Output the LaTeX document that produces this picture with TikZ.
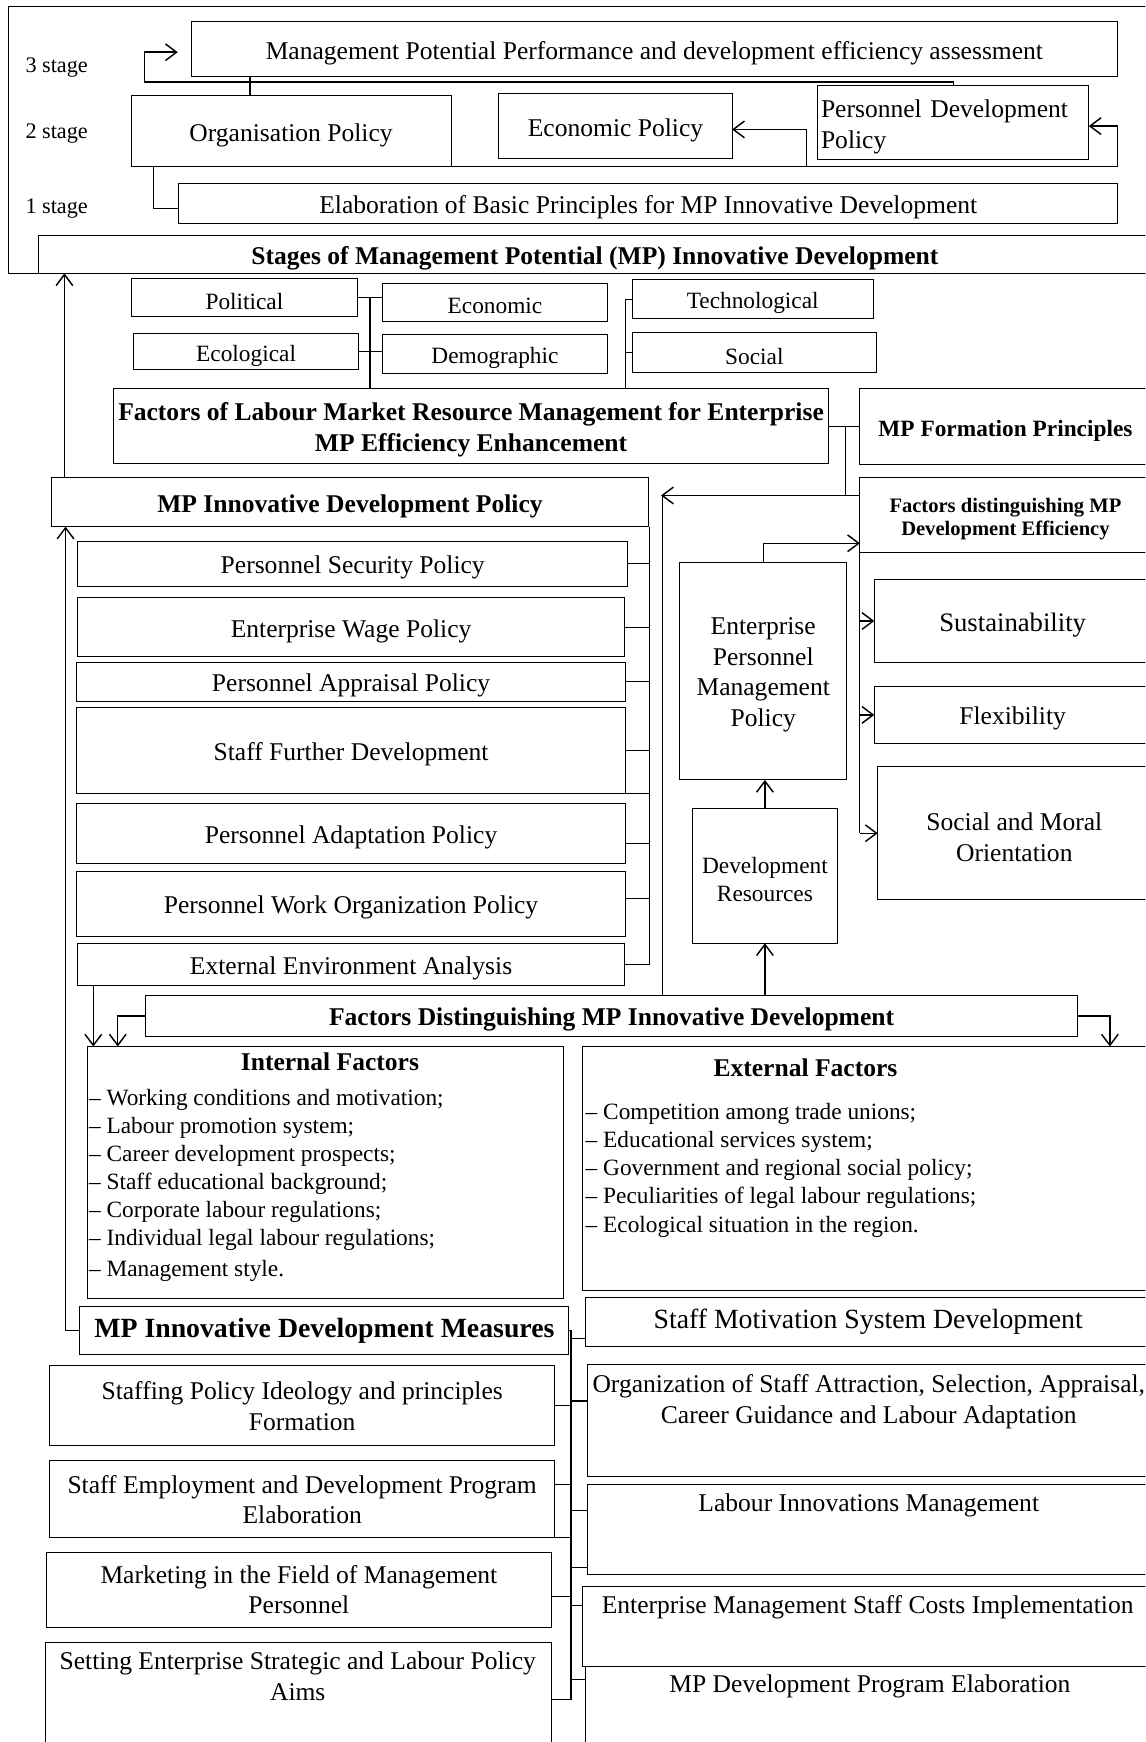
\documentclass[tikz,border=0pt]{standalone}
\usepackage{fontspec}
\setmainfont{Liberation Serif}
\usetikzlibrary{arrows.meta,calc}
\newcommand\fA{\fontsize{23}{27.5}\selectfont}
\newcommand\fS{\fontsize{21}{25.3}\selectfont}
\newcommand\fL{\fontsize{20}{24}\selectfont}
\newcommand\fC{\fontsize{18.5}{21}\selectfont}
\newcommand\fD{\fontsize{24}{28}\selectfont}
\newcommand\fE{\fontsize{25}{30}\selectfont}
% box with centred text (text node slightly lowered to match visual centre)
\newcommand\bxn[7][]{\node[box,minimum width={(#4)-(#2)},minimum height={(#5)-(#3)}] (#6) at ({((#2)+(#4))/2},{((#3)+(#5))/2}) {};
  \node[txt,#1] (#6-t) at ({((#2)+(#4))/2},{((#3)+(#5))/2+3.5}) {#7};}
% empty box
\newcommand\bxe[5]{\node[box,minimum width={(#3)-(#1)},minimum height={(#4)-(#2)}] (#5) at ({((#1)+(#3))/2},{((#2)+(#4))/2}) {};}
\begin{document}
\begin{tikzpicture}[x=1pt,y=-1pt,
  box/.style={draw=black,line width=0.9pt,inner sep=0pt,outer sep=0pt},
  txt/.style={inner sep=0pt,font=\fA,align=center},
  ln/.style={line width=1pt},
  arr/.style={line width=1.3pt,-{Straight Barb[length=10pt,width=15pt,line width=1.3pt]}}]
\useasboundingbox (0,0) rectangle (1031,1568);
\clip (0,0) rectangle (1031,1568);

% ---------- top frame ----------
\bxe{8}{6}{1040}{246}{frame}
\bxn{172}{19}{1006}{69}{mpa}{Management Potential Performance and development efficiency assessment}
\bxn{118}{86}{406}{150}{orgp}{Organisation Policy}
\bxn{449}{84}{659}{143}{ecop}{Economic Policy}
\bxn[align=left,text width=238pt]{736}{77}{980}{144}{pdp}{Personnel Development\\Policy}
\bxn{161}{165}{1006}{201}{elab}{Elaboration of Basic Principles for MP Innovative Development}
\bxn[font=\fA\bfseries]{35}{212}{1036}{246}{stages}{Stages of Management Potential (MP) Innovative Development}
\node[txt,font=\fL] (s3) at (51,61) {3 stage};
\node[txt,font=\fL] (s2) at (51,120) {2 stage};
\node[txt,font=\fL] (s1) at (51,188) {1 stage};

\coordinate (k1) at (130,74);
\coordinate (k2) at (160,47);
\draw[arr] (pdp.north) |- (k1) |- (k2);
\coordinate (k3) at ($(orgp.north west)+(107,0)$);
\draw[ln] (k3) -- (k3 |- mpa.south);
\draw[ln] ($(orgp.south west)+(20,0)$) |- ($(elab.west)+(0,5)$);
\coordinate (k4) at ($(orgp.south east)+(600,0)$);
\draw[ln] (orgp.south east) -- (k4);
\draw[arr] (k4) |- ($(pdp.east)+(0,3)$);
\draw[arr] ($(orgp.south east)+(320,0)$) |- ($(ecop.east)+(0,3)$);

% ---------- factors ----------
\bxn[font=\fS]{118}{251}{322}{285}{pol}{Political}
\bxn[font=\fS]{344}{255}{547}{289}{eco}{Economic}
\bxn[font=\fS]{569}{252}{786}{287}{tech}{Technological}
\bxn[font=\fS]{120}{300}{323}{333}{ecol}{Ecological}
\bxn[font=\fS]{344}{301}{547}{336}{demo}{Demographic}
\bxn[font=\fS]{569}{299}{789}{335}{soc}{Social}
\bxn[font=\fA\bfseries]{102}{350}{746}{417}{flm}{Factors of Labour Market Resource Management for Enterprise\\MP Efficiency Enhancement}
\bxn[font=\fS\bfseries]{774}{350}{1036}{418}{mpfp}{MP Formation Principles}
\bxn[font=\fC\bfseries]{774}{430}{1036}{497}{fdme}{Factors distinguishing MP\\Development Efficiency}

\draw[ln] (pol.east) -- (pol.east -| eco.west);
\draw[ln] (ecol.east) -- (ecol.east -| demo.west);
\coordinate (b1) at ($(pol.east)+(11,0)$);
\draw[ln] (b1) -- (b1 |- flm.north);
\coordinate (b2) at ($(tech.west)+(-6,0)$);
\draw[ln] (b2) -- (tech.west);
\draw[ln] (b2) -- (b2 |- flm.north);
\draw[ln] (soc.west -| b2) -- (soc.west);
\draw[ln] (flm.east) -- (flm.east -| mpfp.west);

% ---------- policy ----------
\bxn[font=\fA\bfseries]{46}{430}{584}{474}{mpidp}{MP Innovative Development Policy}
\bxn{70}{487}{565}{528}{psp}{Personnel Security Policy}
\bxn{70}{538}{562}{591}{ewp}{Enterprise Wage Policy}
\bxn{69}{596}{563}{631}{pap}{Personnel Appraisal Policy}
\bxn{69}{637}{563}{714}{sfd}{Staff Further Development}
\bxn{69}{723}{563}{777}{pad}{Personnel Adaptation Policy}
\bxn{69}{784}{563}{843}{pwo}{Personnel Work Organization Policy}
\bxn{70}{849}{562}{887}{eea}{External Environment Analysis}

\coordinate (b3) at ($(flm.east)+(15,0)$);
\coordinate (j1) at ($(fdme.north west)+(0,16)$);
\draw[ln] (b3) -- (b3 |- j1);
\coordinate (j2) at ($(mpidp.north east)+(11,16)$);
\draw[arr] (j1) -- (j2);
\coordinate (j3) at ($(j2)+(1,0)$);

\coordinate (u1) at ($(mpidp.north west)+(12,0)$);
\draw[arr] (u1) -- (u1 |- stages.south);

\coordinate (v1) at ($(mpidp.south east)+(1,0)$);
\draw[ln] (v1) -- (v1 |- eea.east);
\foreach \n in {psp,ewp,pap,sfd,eea} {\draw[ln] (\n.east) -- (\n.east -| v1);}
\draw[ln] (sfd.south east) -- (sfd.south east -| v1);
\draw[ln] ($(pad.east)+(0,9)$) -- ++(22,0);
\draw[ln] ($(pwo.east)+(0,-5)$) -- ++(22,0);

% ---------- right block ----------
\bxn{612}{506}{762}{702}{epmp}{Enterprise\\Personnel\\Management\\Policy}
\bxn[font=\fS]{623}{728}{754}{849}{devr}{Development\\Resources}
\bxn[font=\fD]{787}{522}{1036}{596}{sust}{Sustainability}
\bxn{787}{618}{1036}{669}{flex}{Flexibility}
\bxn{790}{690}{1036}{810}{smo}{Social and Moral\\Orientation}

\draw[ln] (fdme.south west) -- (fdme.south west |- smo.west);
\draw[arr] (sust.west -| fdme.south west) -- (sust.west);
\draw[arr] (flex.west -| fdme.south west) -- (flex.west);
\draw[arr] (smo.west -| fdme.south west) -- (smo.west);
\coordinate (e1) at ($(fdme.south west)+(0,-8)$);
\draw[arr] (epmp.north) |- (e1);
\draw[arr] (devr.north) -- (devr.north |- epmp.south);

% ---------- distinguishing factors ----------
\bxn[font=\fA\bfseries]{131}{896}{970}{933}{fdid}{Factors Distinguishing MP Innovative Development}
\draw[ln] (j3) -- (j3 |- fdid.north);
\draw[arr] (devr.south |- fdid.north) -- (devr.south);

\bxe{79}{942}{507}{1169}{intf}
\bxe{524}{942}{1036}{1162}{extf}
\node[txt,font=\fA\bfseries] (intft) at (297,956) {Internal Factors};
\node[txt,font=\fA\bfseries] (extft) at (725,961) {External Factors};
\node[txt,font=\fS,align=left,anchor=north west] (intfl) at (80,980) {– Working conditions and motivation;\\– Labour promotion system;\\– Career development prospects;\\– Staff educational background;\\– Corporate labour regulations;\\– Individual legal labour regulations;\\[2.7pt]– Management style.};
\node[txt,font=\fS,align=left,anchor=north west] (extfl) at (527,993) {– Competition among trade unions;\\– Educational services system;\\– Government and regional social policy;\\– Peculiarities of legal labour regulations;\\– Ecological situation in the region.};

\coordinate (d1) at ($(eea.south west)+(14,0)$);
\draw[arr] (d1) -- (d1 |- intf.north);
\coordinate (d2) at ($(intf.north west)+(27,0)$);
\draw[arr] (fdid.west) -| (d2);
\coordinate (d3) at ($(extf.north west)+(475,0)$);
\draw[arr] (fdid.east) -| (d3);

% ---------- measures ----------
\bxn[font=\fE\bfseries,yshift=3.5pt]{72}{1176}{512}{1219}{meas}{MP Innovative Development Measures}
\bxn[font=\fE,yshift=3.5pt]{527}{1168}{1036}{1212}{smsd}{Staff Motivation System Development}
\bxe{529}{1228}{1036}{1329}{osa}
\node[txt] (osat) at (782,1261.5) {Organization of Staff Attraction, Selection, Appraisal,\\Career Guidance and Labour Adaptation};
\bxe{529}{1336}{1036}{1417}{lim}
\node[txt] (limt) at (782,1355) {Labour Innovations Management};
\bxe{524}{1428}{1036}{1500}{emsc}
\node[txt] (emsct) at (781,1447) {Enterprise Management Staff Costs Implementation};
\bxe{527}{1500}{1036}{1580}{mpdpe}
\node[txt] (mpdpet) at (783,1518) {MP Development Program Elaboration};

\bxn[yshift=3pt]{45}{1229}{499}{1301}{spi}{Staffing Policy Ideology and principles\\Formation}
\bxn[yshift=3pt]{45}{1315}{499}{1384}{sed}{Staff Employment and Development Program\\Elaboration}
\bxn[yshift=3.5pt]{42}{1397}{496}{1465}{mfm}{Marketing in the Field of Management\\Personnel}
\bxe{41}{1478}{496}{1580}{sesl}
\node[txt] (seslt) at (268,1509) {Setting Enterprise Strategic and Labour Policy\\Aims};

\coordinate (la) at ($(mpidp.south west)+(13,0)$);
\draw[arr] (meas.west) -| (la);

\coordinate (w1) at ($(meas.east)+(2,0)$);
\coordinate (w2) at ($(sesl.north east)+(18,52)$);
\draw[ln] (meas.east) -- (w1) -- (w2) -- ($(sesl.north east)+(0,52)$);
\draw[ln] ($(smsd.north west)+(0,37)$) -- ++(-13,0);
\draw[ln] ($(osa.north west)+(0,33)$) -- ++(-15,0);
\draw[ln] ($(lim.north west)+(0,24)$) -- ++(-15,0);
\draw[ln] ($(lim.south west)+(0,-6)$) -- ++(-15,0);
\draw[ln] ($(emsc.north west)+(0,17)$) -- ++(-10,0);
\draw[ln] ($(mpdpe.north west)+(0,12)$) -- ++(-13,0);
\draw[ln] ($(spi.north east)+(0,36)$) -- ++(15,0);
\draw[ln] ($(sed.north east)+(0,21)$) -- ++(15,0);
\draw[ln] (sed.south east) -- ++(15,0);
\draw[ln] ($(mfm.north east)+(0,40)$) -- ++(18,0);
\end{tikzpicture}
\end{document}
